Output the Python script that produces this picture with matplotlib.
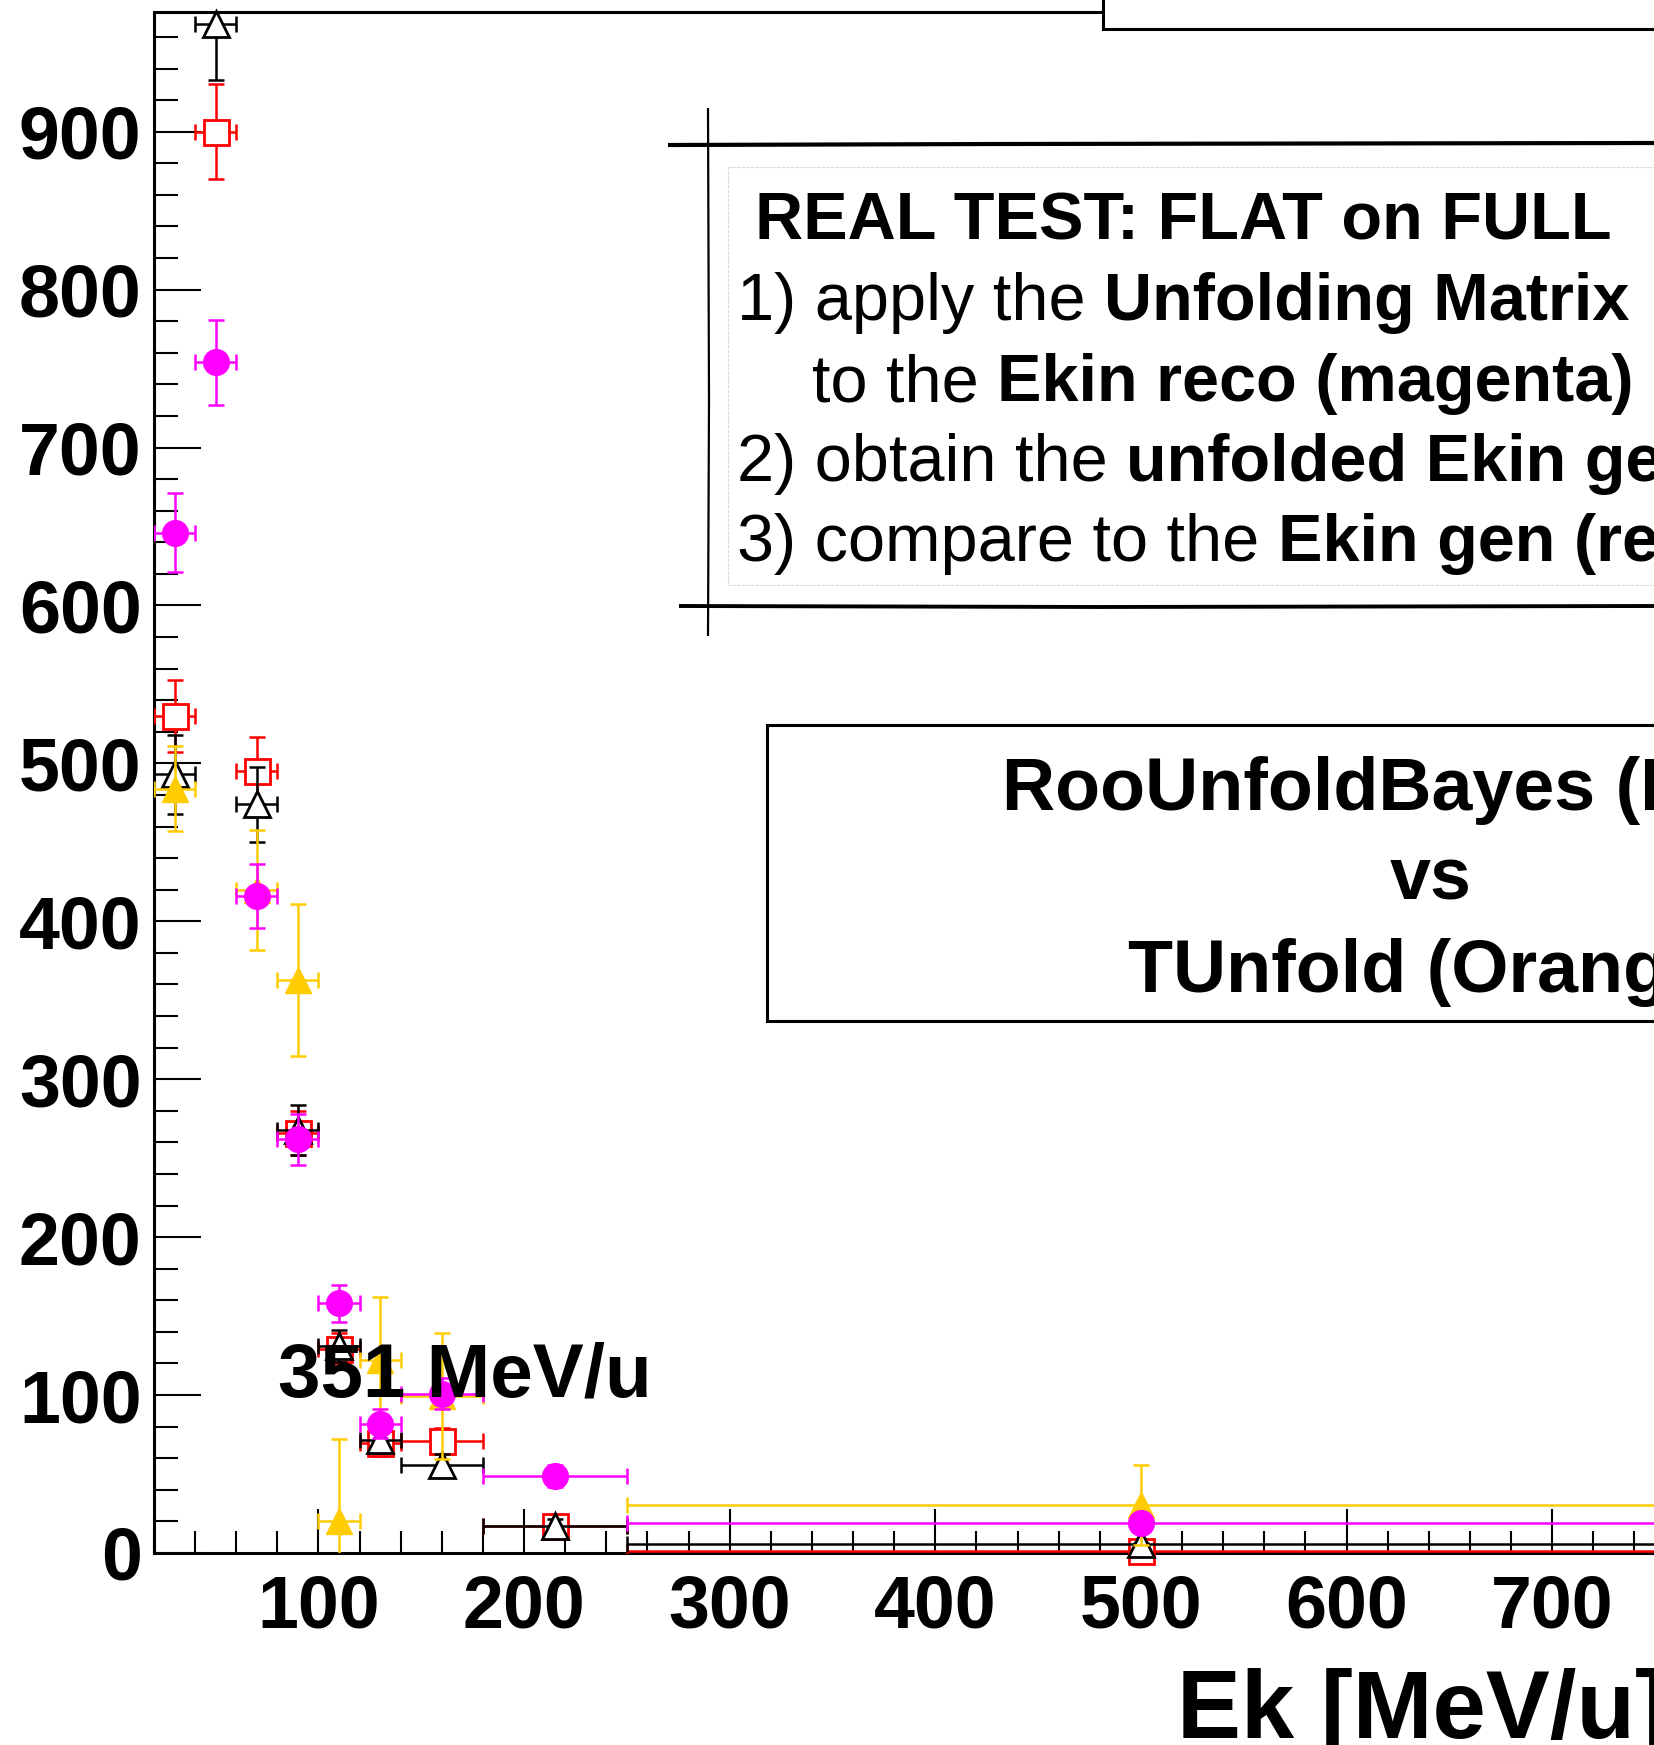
import numpy as np
import matplotlib
matplotlib.use('Agg')
import matplotlib.pyplot as plt
from matplotlib.ticker import MultipleLocator
from matplotlib.lines import Line2D
from matplotlib.patches import Rectangle

plt.rcParams['font.family'] = 'Liberation Sans'
plt.rcParams['font.weight'] = 'bold'

# Ek bins [MeV/u]: centres and half widths
ek = np.array([30, 50, 70, 90, 110, 130, 160, 215, 500])
ek_half = np.array([10, 10, 10, 10, 10, 10, 20, 35, 250])

# Ekin gen (red squares)
gen = np.array([530, 900, 495, 266, 129, 69.6, 71.1, 17.3, 1.4])
gen_err = np.array([23, 30, 22, 14, 10, 8, 8, 4, 1])
# RooUnfoldBayes (black triangles)
bayes = np.array([493, 968, 474, 268, 131, 71.6, 55.5, 17.3, 5.6])
bayes_err = np.array([25, 35, 24, 16, 10, 8, 7, 4, 1])
# TUnfold (orange triangles), nan = not visible in range
tunf = np.array([484, np.nan, 420, 363, 20, 122, 99.4, np.nan, 30.3])
tunf_err = np.array([27, np.nan, 38, 48, 52, 40, 40, np.nan, 25.4])
# Ekin reco (magenta circles)
reco = np.array([646, 754, 416, 262, 158, 82, 101, 48.8, 19.2])
reco_err = np.array([25, 27, 20, 16, 12, 9, 10, 7, 2])

W, H = 1654, 1745
def fx(x):
    return x / W
def fy(y):
    return 1 - y / H

fig = plt.figure(figsize=(W / 100, H / 100), dpi=100)
ax = fig.add_axes([fx(154), fy(1553), (1655 - 154) / W, (1553 - 11.7) / H])
ax.set_xlim(20, 750)
ax.set_ylim(0, 976)

def draw(y, yerr, color, marker, ms, filled, z):
    ax.errorbar(ek, y, xerr=ek_half, yerr=yerr, fmt='none', ecolor=color,
                elinewidth=1.8, capsize=5.5, capthick=1.8, zorder=z)
    ax.plot(ek, y, ls='none', marker=marker, ms=ms,
            mfc=color if filled else 'white', mec=color, mew=2 if not filled else 1,
            clip_on=False, zorder=z + 0.5)

draw(gen, gen_err, '#ff0000', 's', 18, False, 3)
draw(bayes, bayes_err, 'black', '^', 19, False, 4)
draw(tunf, tunf_err, '#ffcc00', '^', 19, True, 5)
draw(reco, reco_err, '#ff00ff', 'o', 18.5, True, 6)

for s in ['left', 'bottom', 'top']:
    ax.spines[s].set_linewidth(2.2)
ax.spines['right'].set_visible(False)
ax.xaxis.set_major_locator(MultipleLocator(100))
ax.xaxis.set_minor_locator(MultipleLocator(20))
ax.yaxis.set_major_locator(MultipleLocator(100))
ax.yaxis.set_minor_locator(MultipleLocator(20))
ax.tick_params(axis='y', which='major', direction='in', length=34, width=1.5, pad=9, labelsize=53)
ax.tick_params(axis='y', which='minor', direction='in', length=17, width=1.5)
ax.tick_params(axis='x', which='major', direction='in', length=32, width=1.5, pad=15, labelsize=53)
ax.tick_params(axis='x', which='minor', direction='in', length=16, width=1.5)
ax.tick_params(top=False, right=False, which='both')

fig.text(fx(278), fy(1396), '351 MeV/u', fontsize=55, ha='left', va='baseline', zorder=20)
fig.text(fx(1177), fy(1738), 'Ek [MeV/u]', fontsize=69, ha='left', va='baseline')

# top pave (cut off)
fig.add_artist(Rectangle((fx(1103), fy(29)), 1000 / W, 200 / H, transform=fig.transFigure,
                         facecolor='white', edgecolor='black', lw=2.2, zorder=5))

# sketch style note box
def sline(xs, ys, lw, color='black', ls='-'):
    fig.add_artist(Line2D([fx(x) for x in xs], [fy(y) for y in ys], transform=fig.transFigure,
                          color=color, lw=lw, ls=ls, zorder=6, solid_capstyle='butt'))

sline([728, 1700], [167, 167], 0.8, '#d8d8d8', (0, (3, 1)))
sline([728, 1700], [585, 585], 0.8, '#d8d8d8', (0, (3, 1)))
sline([728, 728], [167, 585], 0.8, '#d8d8d8', (0, (3, 1)))
sline([668, 1000, 1654], [145, 144, 143], 3.0)
sline([679, 1100, 1654], [606, 607, 606], 2.8)
sline([708, 709, 708], [108, 400, 636], 1.6)

fs_note = 48
renderer = fig.canvas.get_renderer()
space = 0.278 * fs_note * 100 / 72

fig.text(fx(755), fy(240), 'REAL TEST: FLAT on FULL', fontsize=fs_note, fontweight='bold',
         ha='left', va='baseline', zorder=7)
note = [(737, 320, [('1) apply the', 'normal'), ('Unfolding Matrix', 'bold')]),
        (812, 401, [('to the', 'normal'), ('Ekin reco (magenta)', 'bold')]),
        (737, 481, [('2) obtain the', 'normal'), ('unfolded Ekin gen', 'bold')]),
        (737, 561, [('3) compare to the', 'normal'), ('Ekin gen (red)', 'bold')])]
for x, y, pieces in note:
    for s, w in pieces:
        t = fig.text(fx(x), fy(y), s, fontsize=fs_note, fontweight=w,
                     ha='left', va='baseline', zorder=7)
        x += t.get_window_extent(renderer).width + space

# method comparison box
fig.add_artist(Rectangle((fx(767), fy(1021)), (2095 - 767) / W, (1021 - 725) / H,
                         transform=fig.transFigure, facecolor='white', edgecolor='black',
                         lw=2.2, zorder=5))
for y, s in [(810, 'RooUnfoldBayes (Black)'), (900, 'vs'), (992, 'TUnfold (Orange)')]:
    fig.text(fx(1431), fy(y), s, fontsize=53, ha='center', va='baseline', zorder=7)

fig.savefig('out.png', dpi=100)
